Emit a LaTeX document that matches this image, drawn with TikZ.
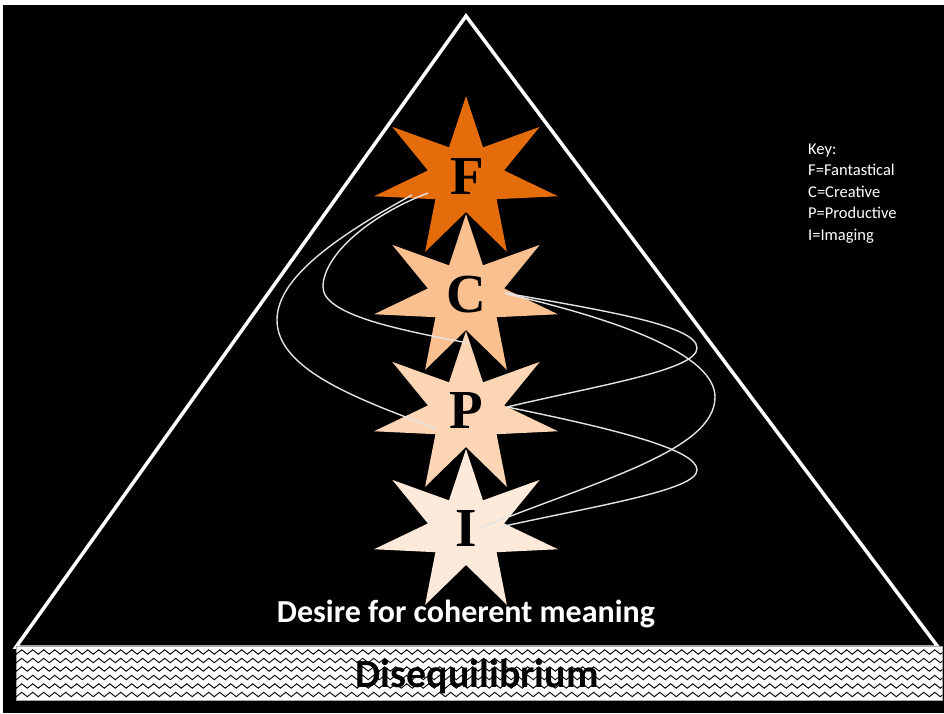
\documentclass[tikz,border=0pt]{standalone}
\usepackage{fontspec}
\setmainfont{Carlito}
\newfontfamily\letterfont{Liberation Serif}
\usetikzlibrary{decorations.pathmorphing,calc}
\definecolor{starF}{RGB}{228,108,10}
\definecolor{starC}{RGB}{250,192,143}
\definecolor{starP}{RGB}{252,213,181}
\definecolor{starI}{RGB}{253,234,218}
\definecolor{curvecol}{RGB}{228,228,228}
\newcommand{\septstar}[3]{%
  \begin{scope}[shift={(#1,#2)},xscale=1.15]
    \fill[#3] (90:82pt) \foreach \i in {0,...,6}{ -- ({90+\i*360/7+180/7}:34pt) -- ({90+(\i+1)*360/7}:82pt) } -- cycle;
  \end{scope}}
\tikzset{
  letter/.style={font=\letterfont\bfseries\fontsize{55}{55}\selectfont, text=black, inner sep=0pt},
  loopline/.style={draw=curvecol, line width=1.4pt},
  keyline/.style={font=\fontsize{16.5}{16.5}\selectfont, text=white, anchor=base west, inner sep=0pt},
}
\begin{document}
\begin{tikzpicture}[x=1pt,y=-1pt]
\useasboundingbox (0,0) rectangle (944,713);
\fill[white] (0,0) rectangle (944,713);
\fill[black] (3,5) rectangle (944,713);
% triangle
\coordinate (apex) at (466,16);
\coordinate (bl) at (16,647);
\coordinate (br) at (938,647);
\draw[white, line width=3.5pt, line join=miter] (apex) -- (bl) -- (br) -- cycle;
% base band
\node[draw=gray!70, fill=white, line width=0.8pt, minimum width=926pt, minimum height=54pt, inner sep=0pt] (band) at (479,673) {};
\begin{scope}
  \clip (band.south west) rectangle (band.north east);
  \foreach \yy in {652,660.5,669,677.5,686,694.5}
    \draw[black, line width=0.9pt, decorate, decoration={zigzag, segment length=11pt, amplitude=2.2pt}] (8,\yy) -- (952,\yy);
\end{scope}
\node[font=\bfseries\fontsize{40}{40}\selectfont, text=black, anchor=base] (dis) at (477,687) {Disequilibrium};
% stars (bottom first)
\septstar{466}{531}{starI}
\septstar{466}{413}{starP}
\septstar{466}{296}{starC}
\septstar{466}{178}{starF}
\node[letter] (F) at (467,176) {F};
\node[letter] (C) at (466,295) {C};
\node[letter] (P) at (466,410) {P};
\node[letter] (I) at (466,528) {I};
% loops on the left
\draw[loopline] ($(F)+(-55,19)$) .. controls (330,240) and (277,280) .. (277,320)
                .. controls (277,370) and (360,400) .. ($(P)+(-31,18)$);
\draw[loopline] ($(F)+(-39,17)$) .. controls (370,215) and (323,255) .. (323,287)
                .. controls (323,315) and (400,330) .. ($(C)+(2,48)$);
% loops on the right
\draw[loopline] ($(C)+(39,-2)$) .. controls (600,310) and (697,325) .. (697,348)
                .. controls (697,370) and (600,385) .. ($(P)+(41,-3)$);
\draw[loopline] ($(C)+(41,-1)$) .. controls (620,320) and (715,355) .. (715,397)
                .. controls (715,450) and (600,480) .. ($(I)+(14,0)$);
\draw[loopline] ($(P)+(41,-3)$) .. controls (620,430) and (697,450) .. (697,470)
                .. controls (697,490) and (600,505) .. ($(I)+(34,-1)$);
% caption
\node[font=\bfseries\fontsize{32}{32}\selectfont, text=white, anchor=base] (desire) at (466,622) {Desire for coherent meaning};
% key
\node[keyline] (k0) at (808,154) {Key:};
\node[keyline] (k1) at (808,175.5) {F=Fantastical};
\node[keyline] (k2) at (808,197) {C=Creative};
\node[keyline] (k3) at (808,218.5) {P=Productive};
\node[keyline] (k4) at (808,240) {I=Imaging};
\end{tikzpicture}
\end{document}
